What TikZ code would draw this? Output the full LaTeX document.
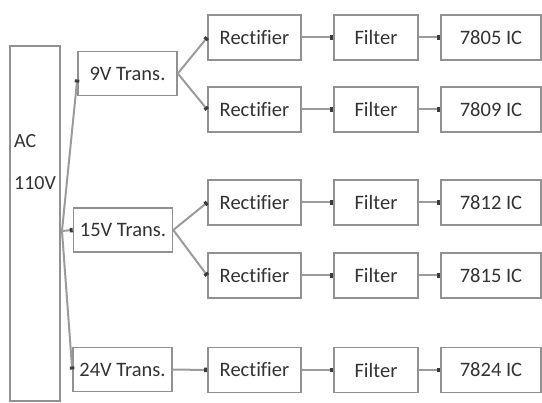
\documentclass[tikz,border=0pt]{standalone}
\usepackage{fontspec}
\setmainfont{Carlito}[Ligatures=NoCommon]
\usetikzlibrary{arrows.meta, positioning, calc}
\definecolor{boxborder}{RGB}{145,145,145}
\definecolor{linecolor}{RGB}{155,155,155}
\definecolor{tipcolor}{RGB}{60,60,60}
\tikzset{
    block/.style={rectangle, draw=boxborder, line width=1.6pt, fill=white,
        minimum height=45pt, inner sep=0pt, align=center,
        font=\fontsize{20.5}{22}\selectfont, text=black!80},
    transblock/.style={block, minimum width=99pt, minimum height=44pt},
    rectblock/.style={block, minimum width=93pt},
    filtblock/.style={block, minimum width=84pt},
    icblock/.style={block, minimum width=100pt},
    arrow/.style={draw=linecolor, line width=2pt,
        -{Square[length=3pt, width=4.5pt, fill=tipcolor, color=tipcolor]}}
}

\begin{document}
\begin{tikzpicture}[x=1pt, y=-1pt]
    \useasboundingbox (0,0) rectangle (542,403);

    % source
    \node[block, minimum width=50pt, minimum height=355pt] (ac) at (35,223.5) {};
    \node[anchor=north west, align=left, inner sep=0pt, text=black!80,
        font=\fontsize{20}{22}\selectfont] (actext) at (14,134) {AC\\[20pt]110V};
    \coordinate (split) at (62,231);

    % transformers
    \node[transblock] (t9)  at (127.5,73.5) {9V Trans.};
    \node[transblock] (t15) at (123,230)   {15V Trans.};
    \node[transblock] (t24) at (122.5,369.5) {24V Trans.};

    % rectifiers
    \node[rectblock] (r1) at (254.5,37.5) {Rectifier};
    \node[rectblock] (r2) at (254.5,109.5) {Rectifier};
    \node[rectblock] (r3) at (254.5,202.5) {Rectifier};
    \node[rectblock] (r4) at (254.5,275.5) {Rectifier};
    \node[rectblock] (r5) at (254.5,370) {Rectifier};

    % filters
    \node[filtblock] (f1) at (376,37.5) {Filter};
    \node[filtblock] (f2) at (376,109.5) {Filter};
    \node[filtblock] (f3) at (376,202.5) {Filter};
    \node[filtblock] (f4) at (376,275.5) {Filter};
    \node[filtblock] (f5) at (376,370) {Filter};

    % regulators
    \node[icblock] (ic1) at (491,37.5) {7805 IC};
    \node[icblock] (ic2) at (491,109.5) {7809 IC};
    \node[icblock] (ic3) at (491,202.5) {7812 IC};
    \node[icblock] (ic4) at (491,275.5) {7815 IC};
    \node[icblock] (ic5) at (491,370) {7824 IC};

    \draw[arrow] (split) -- ([yshift=-6pt]t9.west);
    \draw[arrow] (split) -- (t15.west);
    \draw[arrow] (split) -- (t24.west);

    \draw[arrow] (t9.east) -- (r1.west);
    \draw[arrow] (t9.east) -- (r2.west);
    \draw[arrow] (t15.east) -- (r3.west);
    \draw[arrow] (t15.east) -- (r4.west);
    \draw[arrow] (t24.east) -- (r5.west);

    \draw[arrow] (r1) -- (f1);
    \draw[arrow] (r2) -- (f2);
    \draw[arrow] (r3) -- (f3);
    \draw[arrow] (r4) -- (f4);
    \draw[arrow] (r5) -- (f5);

    \draw[arrow] (f1) -- (ic1);
    \draw[arrow] (f2) -- (ic2);
    \draw[arrow] (f3) -- (ic3);
    \draw[arrow] (f4) -- (ic4);
    \draw[arrow] (f5) -- (ic5);

\end{tikzpicture}
\end{document}
